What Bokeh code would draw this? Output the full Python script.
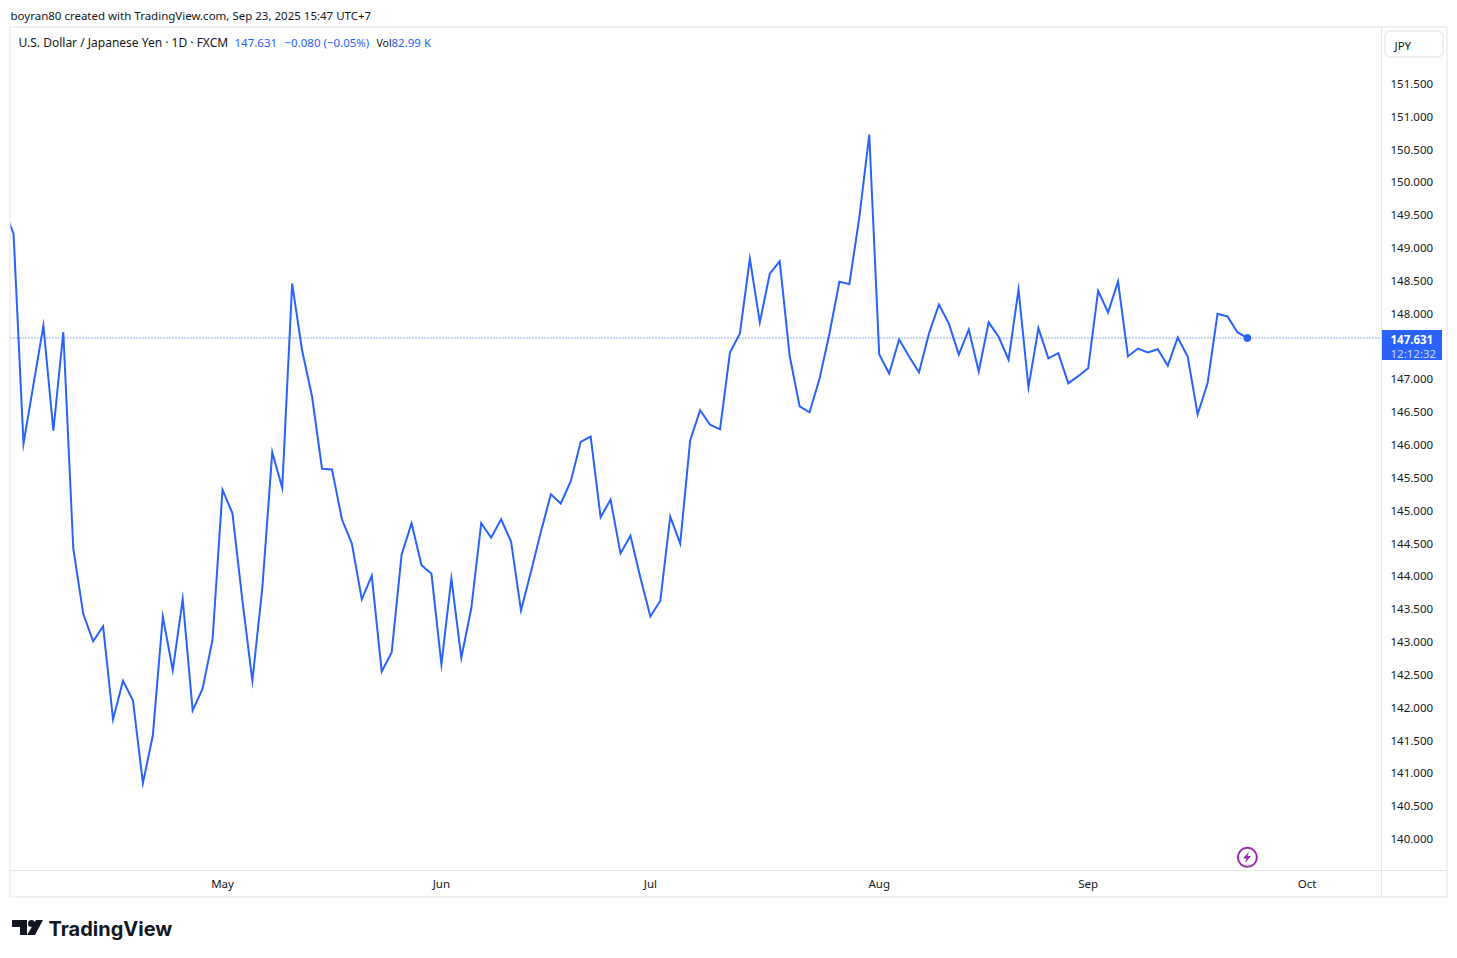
from bokeh.embed import file_html
from bokeh.models import Div, FixedTicker, GridBox, Label, PrintfTickFormatter, Range1d
from bokeh.plotting import figure
from bokeh.resources import INLINE

# daily closes, month by month
april = [149.62, 149.22, 146.02, 146.92, 147.82, 146.22, 147.72, 144.43, 143.43, 143.01, 143.24,
         141.82, 142.41, 142.11, 140.85, 141.58, 143.39, 142.57, 143.65, 141.96, 142.29, 143.04]
may = [145.32, 144.96, 143.63, 142.41, 143.82, 145.89, 145.35, 148.46, 147.44, 146.74, 145.64,
       145.63, 144.87, 144.50, 143.65, 144.01, 142.55, 142.84, 144.33, 144.81, 144.17, 144.04]
june = [142.66, 143.97, 142.76, 143.51, 144.81, 144.59, 144.87, 144.53, 143.48, 144.07, 144.68,
        145.25, 145.11, 145.45, 146.05, 146.13, 144.90, 145.17, 144.35, 144.62, 143.98]
july = [143.39, 143.63, 144.91, 144.50, 146.07, 146.53, 146.31, 146.24, 147.41, 147.70, 148.84, 147.87,
        148.61, 148.80, 147.36, 146.59, 146.50, 147.01, 147.70, 148.49, 148.45, 149.47, 150.73]
august = [147.38, 147.09, 147.61, 147.35, 147.11, 147.70, 148.14, 147.85, 147.38, 147.76, 147.12,
          147.87, 147.65, 147.30, 148.37, 146.88, 147.78, 147.32, 147.40, 146.94, 147.05]
september = [147.17, 148.35, 148.02, 148.49, 147.35, 147.47, 147.41, 147.46, 147.21, 147.64, 147.35,
             146.47, 146.94, 148.00, 147.96, 147.72, 147.631]

last_price = 147.631
month_bars = [22, 44, 65, 88, 109, 131]
month_names = ["May", "Jun", "Jul", "Aug", "Sep", "Oct"]
price_ticks = [140, 140.5, 141, 141.5, 142, 142.5, 143, 143.5, 144, 144.5, 145, 145.5, 146, 146.5,
               147, 148, 148.5, 149, 149.5, 150, 150.5, 151, 151.5]

prices = april + may + june + july + august + september
bars = list(range(len(prices)))

BLUE = "#2962ff"
DARK = "#131722"
FONT = "Noto Sans"

p = figure(width=1449, height=950, frame_width=1371, frame_height=843,
           output_backend="svg", toolbar_location=None, tools="",
           x_range=Range1d(0.693, 138.48), y_range=Range1d(139.52, 152.361),
           y_axis_location="right", min_border_left=10, min_border_right=68,
           min_border_top=27, min_border_bottom=80, outline_line_color=None,
           background_fill_alpha=0, border_fill_alpha=0)
p.grid.grid_line_color = None

p.xaxis.ticker = FixedTicker(ticks=month_bars)
p.xaxis.major_label_overrides = dict(zip(month_bars, month_names))
p.yaxis.ticker = FixedTicker(ticks=price_ticks)
p.yaxis.formatter = PrintfTickFormatter(format="%.3f")
for ax in (p.xaxis, p.yaxis):
    ax.axis_line_color = None
    ax.major_tick_line_color = None
    ax.major_tick_out = 0
    ax.minor_tick_line_color = None
    ax.major_label_text_font = FONT
    ax.major_label_text_font_size = "11.5px"
    ax.major_label_text_color = DARK
p.yaxis.major_label_standoff = 9
p.xaxis.major_label_standoff = 5

p.segment(p.x_range.start, last_price, p.x_range.end, last_price, line_color=BLUE, line_width=1, line_dash="1 2")
p.line(bars, prices, line_color=BLUE, line_width=2, line_join="miter")
p.scatter([bars[-1]], [last_price], size=7, fill_color=BLUE, line_color=BLUE)
# news marker
p.scatter([bars[-1]], [139.72], size=19, fill_alpha=0, line_color="#9c27b0", line_width=2)

# chrome around the chart: annotations get clipped to a frame, so the strips, price tag
# and logo shapes go in a plain svg behind the figures
chrome = Div(width=1449, height=950, margin=0, text=f"""
<svg width="1449" height="950" style="position:absolute;left:0;top:0" shape-rendering="crispEdges">
<rect x="10" y="27" width="1437" height="870" fill="none" stroke="#f2f2f2" stroke-width="2"/>
<path d="M1381.5 27V897M10 870.5H1447" stroke="#e4e4e4" fill="none"/>
<rect x="1385" y="31" width="58" height="26" rx="5" fill="none" stroke="#f0f0f0" stroke-width="2"/>
<rect x="1382" y="330" width="60" height="30" fill="{BLUE}"/>
<g shape-rendering="auto">
<polygon points="1249,851.5 1243,858.5 1246.5,858.5 1245,863 1251,856 1247.5,856" fill="#9c27b0"/>
<polygon points="12,920 27,920 27,935 20,935 20,927 12,927" fill="{DARK}"/>
<polygon points="36,920 43,920 35,935 27,935" fill="{DARK}"/>
<circle cx="31.5" cy="923.5" r="3.5" fill="{DARK}"/>
</g>
</svg>""")

# texts sit in a side panel of a second transparent figure, where they are not clipped
over = figure(width=1449, height=950, output_backend="svg", toolbar_location=None, tools="",
              x_range=Range1d(0, 1449), y_range=Range1d(950, 0), x_axis_type=None, y_axis_type=None,
              min_border=0, outline_line_color=None, background_fill_alpha=0, border_fill_alpha=0)
over.grid.grid_line_color = None


def label(x, y, text, color=DARK, size="11.5px", style="normal", font=FONT):
    over.add_layout(Label(x=x, y=y, x_units="canvas", y_units="canvas", text=text, text_color=color,
                          text_font=font, text_font_size=size, text_font_style=style,
                          text_baseline="middle"), "below")


label(1390, 339, "147.631", color="white", style="bold")
label(1390, 353, "12:12:32", color="#cdd9ff")
label(10, 14.5, "boyran80 created with TradingView.com, Sep 23, 2025 15:47 UTC+7")
label(18, 42, "U.S. Dollar / Japanese Yen · 1D · FXCM", size="12px")
label(234, 42, "147.631", color=BLUE)
label(284, 42, "−0.080 (−0.05%)", color=BLUE)
label(376, 42, "Vol", size="10.5px")
label(391, 42, "82.99 K", color=BLUE)
label(1394, 45, "JPY")
label(48, 928, "TradingView", color=DARK, size="20px", style="bold", font="Inter")

page = GridBox(children=[(chrome, 0, 0), (p, 0, 0), (over, 0, 0)])
open("out.html", "w").write(file_html(page, INLINE))
